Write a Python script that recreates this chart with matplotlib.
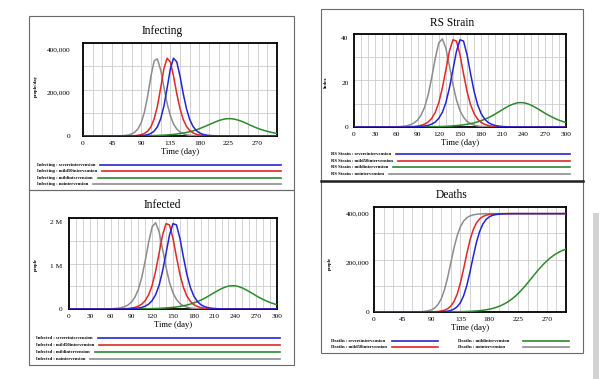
import matplotlib
matplotlib.use("Agg")
import matplotlib.pyplot as plt
import numpy as np
from matplotlib.patches import Rectangle

plt.rcParams['font.family'] = ['Liberation Serif', 'DejaVu Serif']

W, H = 606, 379

days = list(range(0, 301, 5))
scenarios = ['severeintervension', 'mild50intervension', 'mildintervension', 'nointervension']
colors = ['#2424d6', '#e02828', '#2b8a2b', '#8c8c8c']

# Infecting (thousand people/day)
infecting_severe = [0] * 15 + [0.2, 0.4, 0.8, 1.6, 3.1, 6.1, 11.7, 22.3, 42, 78, 136, 219, 308, 358, 341, 276,
                               195, 126, 76, 44.6, 25.5, 14.4, 8.1, 4.5, 2.5, 1.4, 0.8, 0.4, 0.2] + [0] * 17
infecting_mild50 = [0] * 13 + [0.2, 0.4, 0.8, 1.6, 3.1, 6.1, 11.7, 22.3, 42, 78, 136, 219, 308, 358, 341, 276,
                               195, 126, 76, 44.6, 25.5, 14.4, 8.1, 4.5, 2.5, 1.4, 0.8, 0.4, 0.2] + [0] * 19
infecting_mild = [0.02, 0.03, 0.03, 0.04, 0.05, 0.06, 0.07, 0.09, 0.11, 0.13, 0.15, 0.19, 0.23, 0.29, 0.36,
                  0.45, 0.56, 0.7, 0.87, 1.06, 1.3, 1.65, 2.1, 2.6, 3.2, 3.9, 4.8, 5.9, 7.3, 9.0, 11.0, 13.5,
                  16.4, 19.8, 23.6, 28.3, 33.6, 39.6, 46.0, 52.5, 58.7, 65.0, 71.0, 75.5, 78.6, 80.0, 79.4,
                  77.0, 73.0, 68.0, 62.0, 55.0, 48.0, 41.5, 35.6, 30.3, 25.6, 21.3, 17.5, 14.4, 11.8]
infecting_none = [0] * 10 + [0.3, 0.6, 1.2, 2.4, 4.6, 9.0, 17.2, 33, 61, 110, 184, 274, 346, 355, 305, 227, 151,
                             94, 55, 32, 18, 10.2, 5.7, 3.2, 1.8, 1.0, 0.5, 0.3, 0.15] + [0] * 22

# RS Strain (index)
rs_severe = [0] * 16 + [0.04, 0.08, 0.14, 0.24, 0.42, 0.74, 1.3, 2.26, 3.92, 6.6, 11.0, 17.6, 25.8, 34.2, 39.4,
                        38.8, 32.6, 24.0, 16.0, 10.0, 6.0, 3.52, 2.02, 1.18, 0.66, 0.38, 0.22, 0.12, 0.07,
                        0.04] + [0] * 15
rs_mild50 = [0] * 14 + [0.04, 0.08, 0.14, 0.24, 0.42, 0.74, 1.3, 2.26, 3.92, 6.6, 11.0, 17.6, 25.8, 34.2, 39.4,
                        38.8, 32.6, 24.0, 16.0, 10.0, 6.0, 3.52, 2.02, 1.18, 0.66, 0.38, 0.22, 0.12, 0.07,
                        0.04] + [0] * 17
rs_mild = [0, 0, 0, 0, 0, 0, 0.002, 0.002, 0.004, 0.004, 0.006, 0.008, 0.01, 0.012, 0.016, 0.02, 0.027,
           0.035, 0.047, 0.06, 0.078, 0.1, 0.13, 0.16, 0.2, 0.25, 0.32, 0.4, 0.5, 0.64, 0.78, 0.98, 1.23,
           1.54, 1.87, 2.34, 2.85, 3.49, 4.16, 5.0, 5.88, 6.87, 7.83, 8.77, 9.66, 10.31, 10.84, 11.03, 10.97,
           10.56, 9.96, 9.14, 8.22, 7.26, 6.25, 5.37, 4.51, 3.77, 3.08, 2.52, 2.03]
rs_none = [0] * 10 + [0.04, 0.06, 0.1, 0.19, 0.34, 0.6, 1.04, 1.82, 3.16, 5.4, 9.0, 14.6, 22.4, 31.0, 38.0, 39.8,
                      35.6, 27.6, 19.2, 12.2, 7.4, 4.4, 2.52, 1.46, 0.84, 0.48, 0.26, 0.15, 0.08, 0.05,
                      0.03] + [0] * 20

# Infected (million people)
infected_severe = [0] * 16 + [0.002, 0.004, 0.007, 0.012, 0.021, 0.037, 0.065, 0.113, 0.196, 0.33, 0.55, 0.88,
                              1.29, 1.71, 1.97, 1.94, 1.63, 1.20, 0.80, 0.50, 0.30, 0.176, 0.101, 0.059,
                              0.033, 0.019, 0.011, 0.006, 0.0034, 0.002] + [0] * 15
infected_mild50 = [0] * 14 + [0.002, 0.004, 0.007, 0.012, 0.021, 0.037, 0.065, 0.113, 0.196, 0.33, 0.55, 0.88,
                              1.29, 1.71, 1.97, 1.94, 1.63, 1.20, 0.80, 0.50, 0.30, 0.176, 0.101, 0.059,
                              0.033, 0.019, 0.011, 0.006, 0.0034, 0.002] + [0] * 17
infected_mild = [0, 0, 0, 0, 0, 0, 0.0001, 0.0001, 0.0002, 0.0002, 0.0003, 0.0004, 0.0005, 0.0006, 0.0008,
                 0.001, 0.0013, 0.0017, 0.0023, 0.003, 0.0038, 0.005, 0.0062, 0.0078, 0.0097, 0.0123, 0.0154,
                 0.0196, 0.0245, 0.031, 0.038, 0.048, 0.060, 0.075, 0.091, 0.114, 0.139, 0.170, 0.203, 0.244,
                 0.287, 0.335, 0.382, 0.428, 0.471, 0.503, 0.529, 0.538, 0.535, 0.515, 0.486, 0.446, 0.401,
                 0.354, 0.305, 0.262, 0.220, 0.184, 0.150, 0.123, 0.099]
infected_none = [0] * 10 + [0.002, 0.003, 0.005, 0.0095, 0.017, 0.030, 0.052, 0.091, 0.158, 0.27, 0.45, 0.73,
                            1.12, 1.55, 1.90, 1.99, 1.78, 1.38, 0.96, 0.61, 0.37, 0.22, 0.126, 0.073, 0.042,
                            0.024, 0.013, 0.0075, 0.004, 0.0024, 0.0013] + [0] * 20

# Deaths (thousand people)
deaths_severe = [0] * 20 + [0.5, 1.0, 1.8, 3.4, 6.4, 11.8, 21.4, 38, 65.8, 107.6, 163, 224.8, 282.2, 327, 357.4,
                            376, 386.8, 392.8, 396, 397.9, 398.9, 399.4, 399.7, 399.9] + [400] * 17
deaths_mild50 = [0] * 18 + [0.6, 1.1, 2.1, 4, 7.2, 13.2, 24, 42.6, 73, 117.8, 175.2, 237, 292.4, 334.2, 362,
                            378.6, 388.2, 393.6, 396.6, 398.2, 399, 399.5, 399.7, 399.8] + [400] * 19
deaths_mild = [0, 0, 0, 0, 0.01, 0.01, 0.01, 0.01, 0.02, 0.02, 0.03, 0.03, 0.04, 0.05, 0.07, 0.08, 0.1, 0.13,
               0.16, 0.21, 0.27, 0.34, 0.42, 0.53, 0.66, 0.83, 1.05, 1.33, 1.7, 2.1, 2.7, 3.4, 4.3, 5.5, 7.0,
               8.9, 11.3, 14.3, 18.0, 22.6, 28.2, 34.9, 42.8, 52.0, 62.5, 74.5, 88.0, 102.5, 118.0, 134.0,
               150.0, 165.8, 180.8, 194.8, 207.6, 219.0, 229.0, 237.6, 244.9, 250.8, 255.6]
deaths_none = [0] * 12 + [0.2, 0.4, 0.8, 1.4, 2.7, 5.0, 9.2, 16.8, 30.4, 53.2, 89, 139.4, 200, 260.6, 311, 346.8,
                          369.6, 383.2, 390.8, 395, 397.3, 398.6, 399.2, 399.6, 399.8] + [400] * 24

fig = plt.figure(figsize=(W / 100, H / 100), dpi=100)
bg = fig.add_axes([0, 0, 1, 1])
bg.set_xlim(0, W)
bg.set_ylim(H, 0)
bg.axis('off')

# panel frames
for x0, y0, x1, y1 in [(29, 16, 294, 190), (29, 190, 294, 365), (321, 9, 583, 181), (321, 181, 583, 353)]:
    bg.add_patch(Rectangle((x0, y0), x1 - x0, y1 - y0, fill=False, ec='#6a6a6a', lw=0.8))
bg.plot([321, 583], [181, 181], color='#222222', lw=1.8)
bg.add_patch(Rectangle((593, 213), 6, 170, color='#d2d2d2', lw=0))


def add_ax(x0, y0, x1, y1):
    return fig.add_axes([x0 / W, 1 - y1 / H, (x1 - x0) / W, (y1 - y0) / H])


def panel(box, series, ymax, yticks, ylabels, xticks, xgrid, ypad):
    ax = add_ax(*box)
    for g in range(0, 301, xgrid):
        ax.axvline(g, color='#cccccc', lw=0.6, zorder=1)
    for g in np.linspace(0, ymax, 5):
        ax.axhline(g, color='#cccccc', lw=0.6, zorder=1)
    for i in [3, 2, 1, 0]:
        ax.plot(days, series[i], color=colors[i], lw=1.1, zorder=3 + (3 - i))
    ax.set_xlim(0, 300)
    ax.set_ylim(0, ymax)
    ax.set_xticks(xticks)
    ax.set_yticks(yticks)
    ax.set_yticklabels(ylabels)
    ax.tick_params(axis='x', length=0, labelsize=5.3, pad=3.5)
    ax.tick_params(axis='y', length=0, labelsize=5.3, pad=ypad)
    for s in ax.spines.values():
        s.set_linewidth(1.3)
        s.set_color('black')
    ax.set_xlabel('Time (day)', fontsize=6.2, labelpad=1.5)
    return ax


def legend_rows(name, rows, x_text, x_end):
    fig.canvas.draw()
    r = fig.canvas.get_renderer()
    for i, y in rows:
        t = bg.text(x_text, y, name + ' : ' + scenarios[i], fontsize=3.3, fontweight='bold',
                    va='center', ha='left')
        bb = t.get_window_extent(renderer=r)
        x_start = bb.x1 * W / fig.bbox.width + 5
        bg.plot([x_start, x_end], [y, y], color=colors[i], lw=1.2)


panel((83, 43, 277, 136), [infecting_severe, infecting_mild50, infecting_mild, infecting_none],
      428, [0, 200, 400], ['0', '200,000', '400,000'], list(range(0, 271, 45)), 15, 9)
panel((354, 34, 566, 127), [rs_severe, rs_mild50, rs_mild, rs_none],
      42, [0, 20, 40], ['0', '20', '40'], list(range(0, 301, 30)), 10, 4)
panel((69, 218, 277, 309), [infected_severe, infected_mild50, infected_mild, infected_none],
      2.1, [0, 1, 2], ['0', '1 M', '2 M'], list(range(0, 301, 30)), 10, 5)
panel((374, 207, 566, 312), [deaths_severe, deaths_mild50, deaths_mild, deaths_none],
      427, [0, 200, 400], ['0', '200,000', '400,000'], list(range(0, 271, 45)), 15, 3.6)

# titles and unit labels
bg.text(162, 31, 'Infecting', fontsize=8.3, ha='center', va='center')
bg.text(452, 23, 'RS Strain', fontsize=8.3, ha='center', va='center')
bg.text(162, 205, 'Infected', fontsize=8.3, ha='center', va='center')
bg.text(452, 195, 'Deaths', fontsize=8.3, ha='center', va='center')
bg.text(36, 86, 'people/day', fontsize=3.4, fontweight='bold', rotation=90, ha='center', va='center')
bg.text(326, 82, 'Index', fontsize=3.4, fontweight='bold', rotation=90, ha='center', va='center')
bg.text(36, 264, 'people', fontsize=3.4, fontweight='bold', rotation=90, ha='center', va='center')
bg.text(330, 263, 'people', fontsize=3.4, fontweight='bold', rotation=90, ha='center', va='center')

legend_rows('Infecting', [(0, 165), (1, 171), (2, 177.5), (3, 184)], 37, 281)
legend_rows('RS Strain', [(0, 154.3), (1, 160.7), (2, 167.3), (3, 174)], 331, 570)
legend_rows('Infected', [(0, 338.3), (1, 345), (2, 351.7), (3, 358.5)], 36, 280)

for i, x_text, x_line0, x_line1, y in [(0, 331, 392, 438, 340.7), (1, 331, 392, 438, 346.5),
                                       (2, 458, 523, 569, 340.7), (3, 458, 523, 569, 346.5)]:
    bg.text(x_text, y, 'Deaths : ' + scenarios[i], fontsize=3.3, fontweight='bold', va='center', ha='left')
    bg.plot([x_line0, x_line1], [y, y], color=colors[i], lw=1.2)

fig.savefig('out.png', dpi=100)
